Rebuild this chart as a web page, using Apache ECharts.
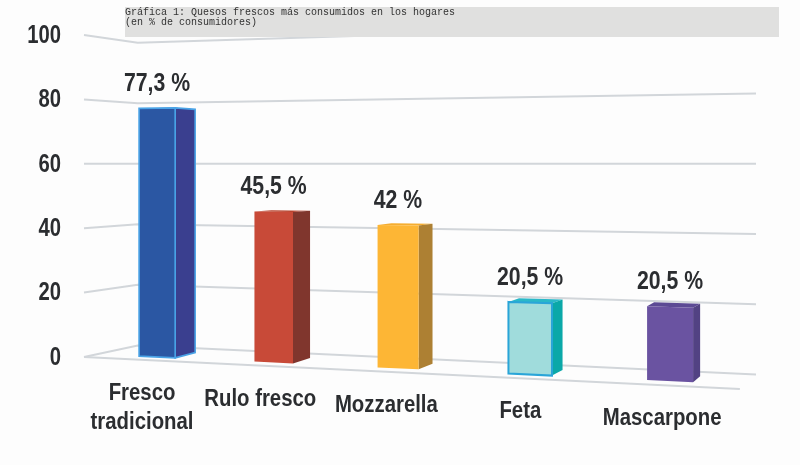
<!DOCTYPE html>
<html>
<head>
<meta charset="utf-8">
<style>html,body{margin:0;padding:0;background:#fdfdfd}#c{width:800px;height:465px}</style>
<script src="https://cdn.jsdelivr.net/npm/echarts@6/dist/echarts.min.js"></script>
</head>
<body>
<div id="c"></div>
<script>
const categories = ['Fresco\ntradicional', 'Rulo fresco', 'Mozzarella', 'Feta', 'Mascarpone'];
const values = [77.3, 45.5, 42, 20.5, 20.5];
const tickValues = [0, 20, 40, 60, 80, 100];
const titleLines = ['Gráfica 1: Quesos frescos más consumidos en los hogares', '(en % de consumidores)'];

const frontColors = ['#2b57a3', '#c84a38', '#fdb635', '#a0dcdc', '#6a53a1'];
const sideColors = ['#3a3f8f', '#80362d', '#ad8033', '#0ba8a8', '#524283'];
const topColors = ['#3a5fb0', '#b8442f', '#f5ad30', '#2ab8c8', '#5c4a94'];
const borderColors = ['#4aa3e6', null, null, '#2aa5d8', null];
const borderWidths = [1.6, 0, 0, 2, 0];

const FONT = '"Liberation Sans",Arial,sans-serif';
const INK = '#2b2d30';
const GRID_LINE = '#d2d6da';
const HORIZON_VALUE = 60;

const chart = echarts.init(document.getElementById('c'));

function horizon(api) { return api.coord([0, HORIZON_VALUE])[1]; }

// Perspective of the front plane of the bars
function screenX(grid, px) {
  const u = (px - grid.x) / grid.width;
  return grid.x + grid.width * (0.0262 + 0.81 * u + 0.1442 * u * u);
}
function depthScale(x) { return 1 + 0.000244 * (x - 157); }
function sideWidth(x) { return 20 - 0.025 * (x - 175); }
const BACK_RATIO = 0.973;

function renderWall(params, api) {
  const grid = params.coordSys;
  const v = api.value(1);
  const py = api.coord([0, v])[1];
  const h = horizon(api);
  const at = (k) => h + (py - h) * k;
  return {
    type: 'group', silent: true,
    children: [
      { type: 'polyline',
        shape: { points: [
          [grid.x, at(1)],
          [grid.x + grid.width * 0.08, at(0.94)],
          [grid.x + grid.width, at(1.09)]
        ] },
        style: { fill: null, stroke: GRID_LINE, lineWidth: 2 } },
      { type: 'text', x: grid.x - 23, y: py + 1, scaleX: 0.81,
        style: { text: String(v), x: 0, y: 0, align: 'right', verticalAlign: 'middle',
          fill: INK, font: 'bold 25px ' + FONT } }
    ]
  };
}

function renderEdge(params, api) {
  const grid = params.coordSys;
  const py = api.coord([0, 0])[1];
  const h = horizon(api);
  return {
    type: 'line', silent: true,
    shape: { x1: grid.x, y1: py, x2: grid.x + grid.width * 0.976, y2: h + (py - h) * 1.166 },
    style: { stroke: GRID_LINE, lineWidth: 2 }
  };
}

function renderBar(params, api) {
  const grid = params.coordSys;
  const i = api.value(0);
  const band = api.size([1, 0])[0];
  const half = band * 0.16;
  const centerPx = api.coord([i, 0])[0];
  const baseY = api.coord([i, 0])[1];
  const topY = api.coord([i, api.value(1)])[1];
  const h = horizon(api);
  const xl = screenX(grid, centerPx - half);
  const xr = screenX(grid, centerPx + half);
  const xc = screenX(grid, centerPx);
  const w = sideWidth(xr);
  const fy = (py, x) => h + (py - h) * depthScale(x);
  const by = (y) => h + (y - h) * BACK_RATIO;
  const tl = [xl, fy(topY, xl)], tr = [xr, fy(topY, xr)];
  const bl = [xl, fy(baseY, xl)], br = [xr, fy(baseY, xr)];
  const ttr = [xr + w, by(tr[1])], tbr = [xr + w, by(br[1])];
  const ttl = [xl + w, by(tl[1])];
  const border = borderColors[i];
  const stroke = border ? { stroke: border, lineWidth: borderWidths[i] } : {};
  const labelX = xc - 15 + 0.014 * (xc - 157);
  const labelTop = 379 + 0.049 * (labelX - 142);
  return {
    type: 'group',
    children: [
      { type: 'polygon', shape: { points: [tl, ttl, ttr, tr] }, style: { fill: topColors[i] } },
      { type: 'polygon', shape: { points: [tr, ttr, tbr, br] }, style: Object.assign({ fill: sideColors[i] }, i === 0 ? stroke : {}) },
      { type: 'polygon', shape: { points: [tl, tr, br, bl] }, style: Object.assign({ fill: frontColors[i] }, stroke) },
      { type: 'text', x: xc, y: tl[1] - 24, scaleX: 0.85,
        style: {
          text: String(values[i]).replace('.', ',') + ' %',
          x: 0, y: 0, align: 'center', verticalAlign: 'middle',
          fill: INK, font: 'bold 25px ' + FONT } },
      { type: 'text', x: labelX, y: labelTop, scaleX: 0.885,
        style: {
          text: categories[i],
          x: 0, y: 0, align: 'center', verticalAlign: 'top',
          lineHeight: 29, fill: INK, font: 'bold 23px ' + FONT } }
    ]
  };
}

chart.setOption({
  animation: false,
  backgroundColor: '#fdfdfd',
  title: {
    text: titleLines.join('\n'),
    left: 125, top: 7, padding: 0, z: 12,
    textStyle: { fontFamily: '"Liberation Mono",monospace', fontSize: 10, fontWeight: 'normal', color: '#333', lineHeight: 10 }
  },
  graphic: [{
    type: 'rect', z: 11, silent: true,
    shape: { x: 125, y: 7, width: 654, height: 30 },
    style: { fill: '#e0e0df' }
  }],
  grid: { left: 84, right: 44, top: 35, bottom: 108 },
  xAxis: {
    type: 'category', data: categories.map((c) => c.replace('\n', ' ')),
    show: false
  },
  yAxis: {
    type: 'value', min: 0, max: 100, interval: 20,
    axisLine: { show: false }, axisTick: { show: false }, splitLine: { show: false },
    axisLabel: { show: false }
  },
  series: [
    { type: 'custom', name: 'wall', z: 1, clip: false, silent: true, renderItem: renderWall,
      data: tickValues.map((v) => [0, v]) },
    { type: 'custom', name: 'edge', z: 1, clip: false, silent: true, renderItem: renderEdge,
      data: [[0, 0]] },
    { type: 'custom', name: 'Consumidores (%)', z: 3, clip: false, renderItem: renderBar,
      encode: { x: 0, y: 1 },
      data: values.map((v, i) => [i, v]) }
  ]
});
</script>
</body>
</html>
